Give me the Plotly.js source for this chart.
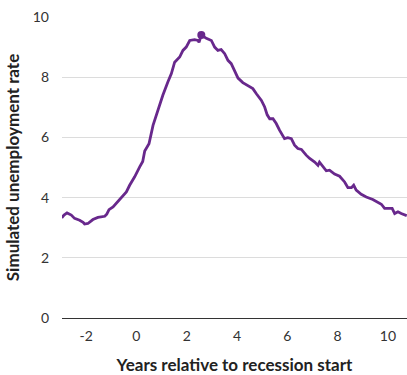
<!DOCTYPE html>
<html>
<head>
<meta charset="utf-8">
<script src="https://cdn.plot.ly/plotly-3.0.1.min.js"></script>
<style>html,body{margin:0;padding:0;background:#fff;}#chart{width:407px;height:375px;}</style>
</head>
<body>
<div id="chart"></div>
<script>
const years = [-2.97,-2.88,-2.76,-2.59,-2.46,-2.26,-2.12,-2.06,-1.93,-1.73,-1.53,-1.40,-1.26,-1.18,-1.09,-0.93,-0.74,-0.60,-0.40,-0.27,-0.07,0.13,0.25,0.33,0.50,0.66,0.86,1.05,1.25,1.39,1.52,1.72,1.85,1.98,2.12,2.31,2.45,2.49,2.58,2.78,2.98,3.11,3.24,3.37,3.51,3.64,3.77,3.90,4.04,4.23,4.43,4.63,4.77,4.97,5.10,5.20,5.30,5.43,5.56,5.69,5.89,6.02,6.16,6.29,6.42,6.56,6.75,6.89,7.09,7.22,7.28,7.42,7.55,7.68,7.88,8.08,8.28,8.41,8.55,8.64,8.74,8.94,9.14,9.40,9.60,9.74,9.87,10.00,10.17,10.27,10.40,10.53,10.66,10.75];
const rate = [3.33,3.42,3.49,3.42,3.31,3.25,3.18,3.12,3.14,3.27,3.34,3.36,3.38,3.45,3.60,3.69,3.86,4.02,4.19,4.41,4.69,5.02,5.20,5.55,5.79,6.40,6.95,7.40,7.84,8.12,8.50,8.67,8.89,9.00,9.22,9.25,9.22,9.16,9.40,9.29,9.22,9.00,8.89,8.92,8.78,8.56,8.45,8.23,7.97,7.82,7.73,7.62,7.45,7.23,7.01,6.75,6.62,6.62,6.46,6.24,5.96,5.99,5.96,5.74,5.63,5.60,5.41,5.30,5.18,5.07,5.18,5.02,4.89,4.91,4.78,4.71,4.52,4.33,4.33,4.41,4.25,4.11,4.02,3.94,3.86,3.78,3.64,3.64,3.64,3.47,3.53,3.47,3.42,3.40];
const peakYear = [2.58];
const peakRate = [9.40];
const xTicks = [-2,0,2,4,6,8,10];
const yTicks = [0,2,4,6,8,10];

const purple = '#68288c';
const font = 'Lato, "Open Sans", sans-serif';

const traces = [
  {x: years, y: rate, type: 'scatter', mode: 'lines',
   line: {color: purple, width: 2.8}, hoverinfo: 'skip'},
  {x: peakYear, y: peakRate, type: 'scatter', mode: 'markers',
   marker: {color: purple, size: 8}, hoverinfo: 'skip'}
];

const layout = {
  width: 407, height: 375,
  margin: {l: 62, r: 0, t: 17, b: 57},
  paper_bgcolor: '#fff', plot_bgcolor: '#fff',
  showlegend: false,
  font: {family: font, size: 14, color: '#333'},
  xaxis: {
    range: [-2.96, 10.76], tickvals: xTicks, ticktext: xTicks.map(String),
    showgrid: false, zeroline: false, showline: false, ticks: '',
    ticklabelstandoff: 8,
    tickfont: {family: font, size: 14, color: '#333'},
    title: {text: 'Years relative to recession start', font: {family: font, size: 17, color: '#222', weight: 'bold'}, standoff: 16}
  },
  yaxis: {
    range: [0, 10], tickvals: yTicks, ticktext: yTicks.map(String),
    showgrid: true, gridcolor: '#dcdcdc', gridwidth: 1,
    zeroline: true, zerolinecolor: '#333', zerolinewidth: 1,
    showline: false, ticks: '',
    ticklabelstandoff: 12,
    tickfont: {family: font, size: 14, color: '#333'},
    title: {text: 'Simulated unemployment rate', font: {family: font, size: 17, color: '#222', weight: 'bold'}, standoff: 8}
  }
};

Plotly.newPlot('chart', traces, layout, {displayModeBar: false, staticPlot: true});
</script>
</body>
</html>
